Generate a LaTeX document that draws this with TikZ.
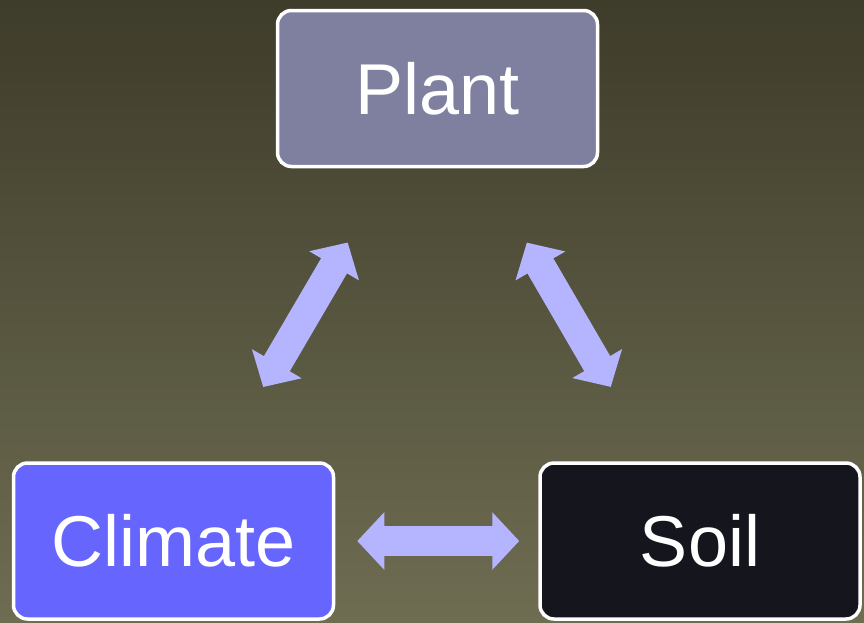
\documentclass[tikz,border=0pt]{standalone}
\usepackage{fontspec}
\setmainfont{Liberation Sans}
\usetikzlibrary{arrows.meta}
\definecolor{bgtop}{RGB}{62,60,42}
\definecolor{bgbot}{RGB}{110,109,82}
\definecolor{plantc}{RGB}{127,127,160}
\definecolor{climc}{RGB}{102,102,255}
\definecolor{soilc}{RGB}{21,22,29}
\definecolor{arrc}{RGB}{180,180,255}
\begin{document}
\begin{tikzpicture}[x=1pt,y=-1pt,
  box/.style={draw=white, line width=3.5pt, rounded corners=14pt,
    minimum width=320pt, minimum height=156pt, text=white,
    font=\fontsize{72}{86}\selectfont, inner sep=0pt},
  dbl/.style={draw=arrc, line width=30pt,
    {Triangle[length=27pt,width=56pt]}-{Triangle[length=27pt,width=56pt]}}]
\shade[top color=bgtop, bottom color=bgbot] (0,0) rectangle (864,622);
\useasboundingbox (0,0) rectangle (864,622);
\node[box, fill=plantc] (plant) at (437.5,88.5) {Plant};
\node[box, fill=climc] (climate) at (173.5,541) {Climate};
\node[box, fill=soilc] (soil) at (700,541) {Soil};
\draw[dbl, shorten <=86pt, shorten >=86pt] (plant) -- (climate);
\draw[dbl, shorten <=86pt, shorten >=86pt] (plant) -- (soil);
\draw[dbl, shorten <=22pt, shorten >=19pt] (climate) -- (soil);
\end{tikzpicture}
\end{document}
